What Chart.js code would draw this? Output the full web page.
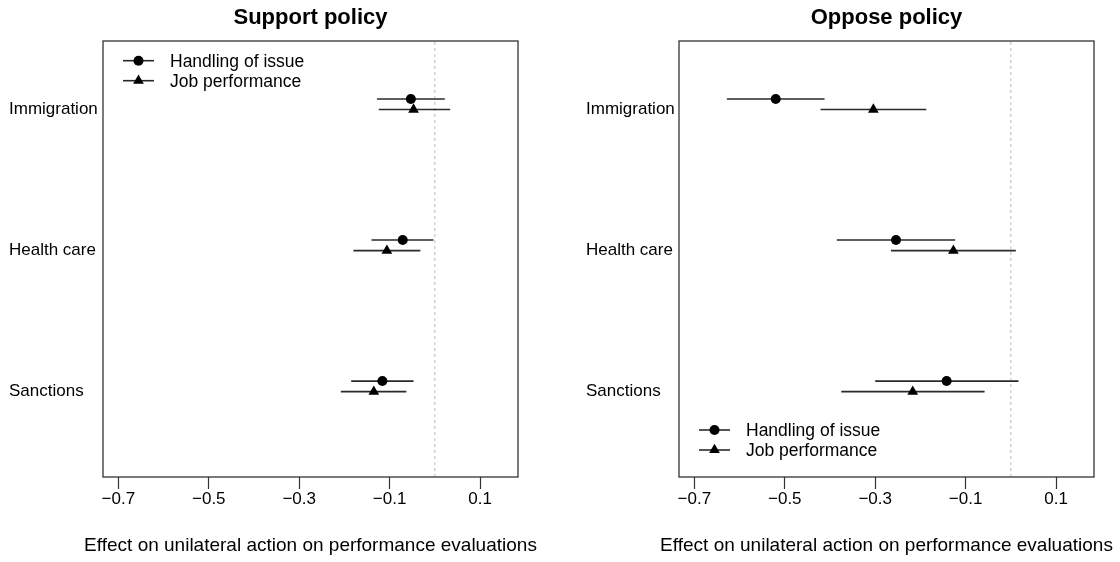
<!DOCTYPE html>
<html>
<head>
<meta charset="utf-8">
<script src="https://cdn.jsdelivr.net/npm/chart.js@4/dist/chart.umd.min.js"></script>
<style>
  html, body { margin: 0; padding: 0; background: #fff; }
  #wrap { width: 1120px; height: 562px; display: flex; }
  canvas { display: block; }
</style>
</head>
<body>
<div id="wrap">
  <canvas id="support" width="560" height="562"></canvas>
  <canvas id="oppose" width="560" height="562"></canvas>
</div>
<script>
// Policy areas, top to bottom
const categories = ['Immigration', 'Health care', 'Sanctions'];
const seriesNames = ['Handling of issue', 'Job performance'];

// Support policy: estimates with 95% interval bounds
const supportHandlingEst = [-0.053, -0.071, -0.116];
const supportHandlingLo  = [-0.128, -0.140, -0.185];
const supportHandlingHi  = [ 0.022, -0.003, -0.047];
const supportJobEst      = [-0.047, -0.106, -0.135];
const supportJobLo       = [-0.124, -0.180, -0.208];
const supportJobHi       = [ 0.034, -0.032, -0.063];

// Oppose policy: estimates with 95% interval bounds
const opposeHandlingEst = [-0.520, -0.254, -0.142];
const opposeHandlingLo  = [-0.628, -0.385, -0.300];
const opposeHandlingHi  = [-0.412, -0.123,  0.017];
const opposeJobEst      = [-0.304, -0.127, -0.217];
const opposeJobLo       = [-0.421, -0.265, -0.375];
const opposeJobHi       = [-0.187,  0.011, -0.058];

// Axis ticks
const xTickValues = [-0.7, -0.5, -0.3, -0.1, 0.1];
const xTickLabels = ['\u22120.7', '\u22120.5', '\u22120.3', '\u22120.1', '0.1'];
const referenceValue = 0;
const xTitle = 'Effect on unilateral action on performance evaluations';

const X_MIN = -0.734, X_MAX = 0.184;
const Y_MIN = 0.395, Y_MAX = 3.486;
const HANDLING_SHIFT = 0.075;   // circles sit slightly above the category row
const FONT = "'Liberation Sans', Arial, Helvetica, sans-serif";
const INK = '#000';
const BAR = '#2a2a2a';

function rowY(i) { return categories.length - i; }

function buildDatasets(hEst, hLo, hHi, jEst, jLo, jHi) {
  const sets = [];
  // markers first so they paint above the interval lines
  sets.push({
    type: 'scatter', label: seriesNames[0], order: 0,
    data: hEst.map((v, i) => ({ x: v, y: rowY(i) + HANDLING_SHIFT })),
    pointStyle: 'circle', pointRadius: 5, backgroundColor: INK, borderWidth: 0,
    xAxisID: 'x', yAxisID: 'y'
  });
  sets.push({
    type: 'scatter', label: seriesNames[1], order: 0,
    data: jEst.map((v, i) => ({ x: v, y: rowY(i) })),
    pointStyle: 'triangle', pointRadius: 6.2, backgroundColor: INK, borderWidth: 0,
    xAxisID: 'x', yAxisID: 'y'
  });
  categories.forEach((c, i) => {
    sets.push({
      type: 'line', order: 1,
      data: [{ x: hLo[i], y: rowY(i) + HANDLING_SHIFT }, { x: hHi[i], y: rowY(i) + HANDLING_SHIFT }],
      borderColor: BAR, borderWidth: 1.6, pointRadius: 0, fill: false,
      xAxisID: 'x', yAxisID: 'y'
    });
    sets.push({
      type: 'line', order: 1,
      data: [{ x: jLo[i], y: rowY(i) }, { x: jHi[i], y: rowY(i) }],
      borderColor: BAR, borderWidth: 1.6, pointRadius: 0, fill: false,
      xAxisID: 'x', yAxisID: 'y'
    });
  });
  // dotted zero-effect reference
  sets.push({
    type: 'line', order: 2,
    data: [{ x: referenceValue, y: Y_MIN }, { x: referenceValue, y: Y_MAX }],
    borderColor: '#bdbdbd', borderWidth: 1, borderDash: [3, 3], pointRadius: 0, fill: false,
    xAxisID: 'x', yAxisID: 'y'
  });
  return sets;
}

// Frame around the plotting region
const framePlugin = {
  id: 'frame',
  afterDatasetsDraw(chart) {
    const { ctx, chartArea: a } = chart;
    ctx.save();
    ctx.strokeStyle = '#333';
    ctx.lineWidth = 1.3;
    ctx.strokeRect(a.left, a.top, a.right - a.left, a.bottom - a.top);
    ctx.restore();
  }
};

// Horizontal axis caption, centred under the plotting region and free to run past its edges
const captionPlugin = {
  id: 'caption',
  afterDraw(chart) {
    const { ctx, chartArea: a } = chart;
    ctx.save();
    ctx.font = '19px ' + FONT;
    ctx.fillStyle = INK;
    ctx.textAlign = 'center';
    ctx.textBaseline = 'middle';
    ctx.fillText(xTitle, (a.left + a.right) / 2, a.bottom + 68.5);
    ctx.restore();
  }
};

// Line-and-symbol key drawn inside the plotting region
const keyPlugin = {
  id: 'key',
  afterDraw(chart, args, opts) {
    const { ctx, chartArea: a } = chart;
    const rows = opts.corner === 'bottom' ? [a.bottom - 47, a.bottom - 27] : [a.top + 19.7, a.top + 39.7];
    const styles = [{ pointStyle: 'circle', radius: 5 }, { pointStyle: 'triangle', radius: 6.2 }];
    ctx.save();
    ctx.font = '17.5px ' + FONT;
    ctx.textBaseline = 'middle';
    ctx.textAlign = 'left';
    seriesNames.forEach((name, k) => {
      const y = rows[k];
      const x0 = a.left + 20, x1 = a.left + 51;
      ctx.strokeStyle = BAR;
      ctx.lineWidth = 1.6;
      ctx.beginPath(); ctx.moveTo(x0, y); ctx.lineTo(x1, y); ctx.stroke();
      ctx.fillStyle = INK;
      Chart.helpers.drawPoint(ctx, { pointStyle: styles[k].pointStyle, radius: styles[k].radius, rotation: 0, borderWidth: 0 }, (x0 + x1) / 2, y);
      ctx.fillStyle = INK;
      ctx.fillText(name, a.left + 67, y + 1);
    });
    ctx.restore();
  }
};

function makePanel(id, title, datasets, pad, yWidth, keyCorner) {
  return new Chart(document.getElementById(id), {
    data: { datasets },
    plugins: [framePlugin, captionPlugin, keyPlugin],
    options: {
      responsive: false,
      animation: false,
      devicePixelRatio: 1,
      layout: { padding: { left: pad.left, right: pad.right, top: 0, bottom: 0 } },
      plugins: {
        legend: { display: false },
        tooltip: { enabled: false },
        key: { corner: keyCorner }
      },
      scales: {
        x: {
          type: 'linear', position: 'bottom', min: X_MIN, max: X_MAX,
          afterBuildTicks: s => { s.ticks = xTickValues.map(v => ({ value: v })); },
          afterFit: s => { s.height = 85; },
          grid: { display: true, drawOnChartArea: false, drawTicks: true, tickLength: 12, tickColor: '#333', tickWidth: 1.2 },
          border: { display: false },
          ticks: {
            padding: 0, color: INK, maxRotation: 0, autoSkip: false,
            font: { family: FONT, size: 17 },
            callback: v => xTickLabels[xTickValues.findIndex(t => Math.abs(t - v) < 1e-9)]
          },
          title: { display: false }
        },
        xTop: {
          type: 'linear', position: 'top', min: 0, max: 1,
          afterFit: s => { s.height = 41; },
          grid: { display: false }, border: { display: false }, ticks: { display: false },
          title: { display: true, text: title, color: INK, font: { family: FONT, size: 22, weight: 'bold' }, padding: { top: 5, bottom: 0 } }
        },
        y: {
          type: 'linear', position: 'left', min: Y_MIN, max: Y_MAX,
          afterBuildTicks: s => { s.ticks = categories.map((c, i) => ({ value: rowY(i) })); },
          afterFit: s => { s.width = yWidth; },
          grid: { display: false }, border: { display: false },
          ticks: {
            crossAlign: 'far', padding: 0, color: INK,
            font: { family: FONT, size: 17 },
            callback: v => categories[categories.length - Math.round(v)]
          }
        }
      }
    }
  });
}

makePanel('support', 'Support policy',
  buildDatasets(supportHandlingEst, supportHandlingLo, supportHandlingHi, supportJobEst, supportJobLo, supportJobHi),
  { left: 9, right: 42 }, 94, 'top');

makePanel('oppose', 'Oppose policy',
  buildDatasets(opposeHandlingEst, opposeHandlingLo, opposeHandlingHi, opposeJobEst, opposeJobLo, opposeJobHi),
  { left: 26, right: 26 }, 93, 'bottom');
</script>
</body>
</html>
